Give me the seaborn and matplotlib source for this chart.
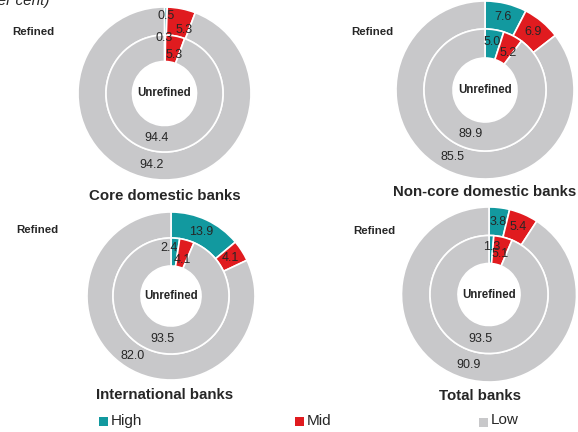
import numpy as np
import matplotlib
matplotlib.use("Agg")
import matplotlib.pyplot as plt
from matplotlib.patches import Rectangle
import seaborn as sns

sns.set_theme(style="white")
plt.rcParams["font.family"] = ["Liberation Sans", "DejaVu Sans"]

# Shares of exposures by risk band (per cent)
bands = ["High", "Mid", "Low"]
panels = ["Core domestic banks", "Non-core domestic banks",
          "International banks", "Total banks"]
refined = {
    "Core domestic banks": [0.5, 5.3, 94.2],
    "Non-core domestic banks": [7.6, 6.9, 85.5],
    "International banks": [13.9, 4.1, 82.0],
    "Total banks": [3.8, 5.4, 90.9],
}
unrefined = {
    "Core domestic banks": [0.3, 5.3, 94.4],
    "Non-core domestic banks": [5.0, 5.2, 89.9],
    "International banks": [2.4, 4.1, 93.5],
    "Total banks": [1.3, 5.1, 93.5],
}

colors = sns.color_palette(["#12999f", "#e01b1f", "#c8c8ca"])

W, H = 578, 432
fig = plt.figure(figsize=(W / 100, H / 100), dpi=100)
ax = fig.add_axes([0, 0, 1, 1])


def Y(y):
    return H - y


# layout per panel: centre (px), outer radius, ring split radius, hole radius,
# title position, "Refined" label position
layout = {
    "Core domestic banks": dict(c=(164.5, 93.5), R=86.5, r=58.5, h=32,
                                title=(165, 196), ref=(33, 32)),
    "Non-core domestic banks": dict(c=(485, 90), R=89, r=61, h=32,
                                    title=(485, 192), ref=(372, 32)),
    "International banks": dict(c=(171, 296), R=84, r=58, h=30,
                                title=(165, 395), ref=(37, 230)),
    "Total banks": dict(c=(489, 294.5), R=87.5, r=59, h=31,
                        title=(480, 396), ref=(374, 231)),
}

# small label nudges (px) where neighbouring labels would collide
nudge = {
    ("Core domestic banks", "out", 0): (0, -5),
    ("Core domestic banks", "out", 1): (5, 8),
    ("Core domestic banks", "in", 0): (-1, -10),
    ("Core domestic banks", "in", 1): (1, 6),
    ("Non-core domestic banks", "in", 0): (0, -2),
    ("Non-core domestic banks", "in", 1): (2, 4),
    ("International banks", "in", 0): (-5, -4),
    ("International banks", "in", 1): (-1, 6),
    ("Total banks", "in", 0): (1, -3),
    ("Total banks", "in", 1): (0, 3.5),
}

wp = dict(edgecolor="white", linewidth=1.2)
for name in panels:
    L = layout[name]
    cx, cy = L["c"]
    R, r, h = L["R"], L["r"], L["h"]
    for ring, vals, ro, ri in (("out", refined[name], R, r),
                               ("in", unrefined[name], r, h)):
        wedges, _ = ax.pie(vals, colors=colors, startangle=90,
                           counterclock=False, radius=ro,
                           center=(cx, Y(cy)), frame=True,
                           wedgeprops=dict(width=ro - ri, **wp))
        rm = (ro + ri) / 2
        for i, (w, v) in enumerate(zip(wedges, vals)):
            ang = np.deg2rad((w.theta1 + w.theta2) / 2)
            dx, dy = nudge.get((name, ring, i), (0, 0))
            tx = cx + rm * np.cos(ang) + dx
            ty = Y(cy) + rm * np.sin(ang) - dy
            ax.text(tx, ty, f"{v:.1f}", ha="center", va="center",
                    fontsize=9, color="#262626")
    ax.text(cx, Y(cy), "Unrefined", ha="center", va="center",
            fontsize=8.3, fontweight="bold", color="#262626")
    tx, ty = L["title"]
    ax.text(tx, Y(ty), name, ha="center", va="center",
            fontsize=10.8, fontweight="bold", color="#262626")
    rx, ry = L["ref"]
    ax.text(rx, Y(ry), "Refined", ha="center", va="center",
            fontsize=8.2, fontweight="bold", color="#262626")

# unit note at the top-left
ax.text(-16, Y(5), "(per cent)", ha="left", va="baseline",
        fontsize=11, fontstyle="italic", color="#262626")

# legend
leg_pos = {"High": (99, 421), "Mid": (295, 421), "Low": (479, 422)}
for band, col in zip(bands, colors):
    lx, ly = leg_pos[band]
    ax.add_patch(Rectangle((lx, Y(ly) - 4.5), 9, 9, facecolor=col,
                           edgecolor="none"))
    ax.text(lx + 12, Y(ly) + (2.5 if band == "Low" else 0), band,
            ha="left", va="center", fontsize=11, color="#262626")

ax.set_xlim(0, W)
ax.set_ylim(0, H)
ax.set_aspect("equal")
ax.axis("off")

fig.savefig("out.png", dpi=100)
